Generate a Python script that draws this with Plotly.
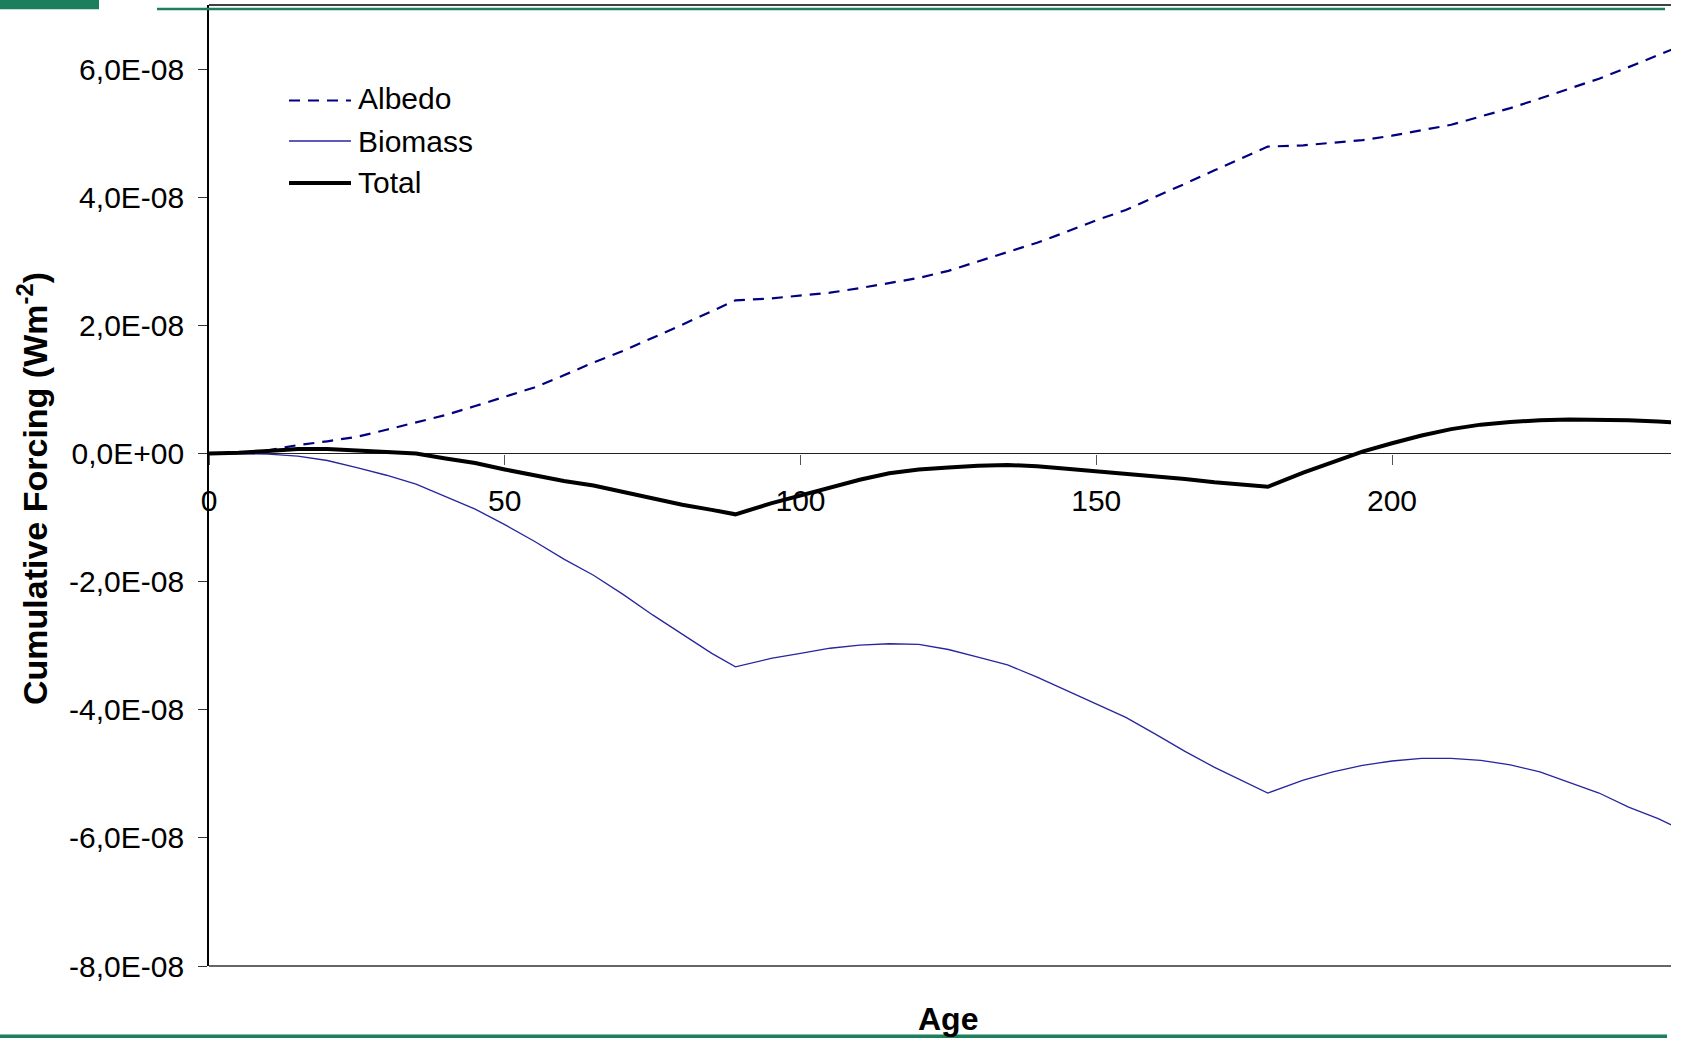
import plotly.graph_objects as go

# Stand age (years)
age = [0, 5, 10, 15, 20, 25, 30, 35, 40, 45, 50, 55, 60, 65, 70, 75, 80, 85, 89,
       95, 100, 105, 110, 115, 120, 125, 130, 135, 140, 145, 150, 155, 160, 165, 170, 175, 179,
       185, 190, 195, 200, 205, 210, 215, 220, 225, 230, 235, 240, 245, 248]

# Cumulative forcing, in units of 1E-08 W m-2
albedo = [0.00, 0.01, 0.05, 0.13, 0.19, 0.26, 0.37, 0.48, 0.60, 0.74, 0.88, 1.03, 1.22, 1.42, 1.60, 1.80, 2.01, 2.22, 2.39,
          2.42, 2.46, 2.51, 2.58, 2.66, 2.74, 2.85, 3.00, 3.15, 3.29, 3.46, 3.64, 3.80, 4.00, 4.21, 4.42, 4.62, 4.79,
          4.81, 4.85, 4.89, 4.96, 5.04, 5.13, 5.26, 5.39, 5.54, 5.69, 5.85, 6.03, 6.21, 6.33]

biomass = [0.00, 0.00, -0.01, -0.04, -0.11, -0.22, -0.34, -0.48, -0.67, -0.87, -1.11, -1.37, -1.65, -1.90, -2.20, -2.52, -2.82, -3.12, -3.33,
           -3.20, -3.12, -3.04, -2.99, -2.97, -2.98, -3.06, -3.18, -3.30, -3.49, -3.70, -3.92, -4.12, -4.38, -4.65, -4.90, -5.12, -5.30,
           -5.10, -4.97, -4.87, -4.80, -4.76, -4.76, -4.79, -4.86, -4.97, -5.13, -5.30, -5.52, -5.70, -5.83]

total = [0.00, 0.01, 0.04, 0.07, 0.07, 0.05, 0.03, 0.00, -0.08, -0.15, -0.25, -0.34, -0.43, -0.50, -0.60, -0.71, -0.80, -0.88, -0.95,
         -0.78, -0.66, -0.53, -0.41, -0.31, -0.25, -0.22, -0.19, -0.18, -0.20, -0.24, -0.28, -0.31, -0.36, -0.40, -0.45, -0.49, -0.52,
         -0.30, -0.13, 0.03, 0.16, 0.28, 0.38, 0.45, 0.49, 0.52, 0.53, 0.53, 0.52, 0.50, 0.48]

UNIT = 1e-8

y_tick_values = [-8, -6, -4, -2, 0, 2, 4, 6]
y_tick_labels = ["-8,0E-08", "-6,0E-08", "-4,0E-08", "-2,0E-08", "0,0E+00", "2,0E-08", "4,0E-08", "6,0E-08"]
x_tick_values = [0, 50, 100, 150, 200, 250]

series_names = ["Albedo", "Biomass", "Total"]

FONT = "Liberation Sans, Arial, sans-serif"
GREEN = "#1b7f5e"

W, H = 1685, 1038
ML, MR, MT, MB = 209, 14, 5, 72
PW, PH = W - ML - MR, H - MT - MB


def px(x):
    return (x - ML) / PW


def py(y):
    return (H - MB - y) / PH


y_min, y_max = -8e-8, 7e-8
x_max = PW / 5.915  # 5.915 px per year

fig = go.Figure()

styles = {
    "Albedo": dict(color="#000080", width=2.2, dash="11px,8px"),
    "Biomass": dict(color="#26269e", width=1.3),
    "Total": dict(color="#000000", width=4),
}
values = {"Albedo": albedo, "Biomass": biomass, "Total": total}

for name in series_names:
    fig.add_trace(go.Scatter(
        x=age, y=[v * UNIT for v in values[name]], mode="lines", name=name,
        line=styles[name], showlegend=False, hoverinfo="skip",
    ))

fig.update_layout(
    width=W, height=H,
    margin=dict(l=ML, r=MR, t=MT, b=MB, pad=0),
    paper_bgcolor="white", plot_bgcolor="white",
    font=dict(family=FONT, color="black"),
    xaxis=dict(
        range=[0, x_max], tickvals=x_tick_values, ticktext=[str(v) for v in x_tick_values],
        anchor="free", position=(0 - y_min) / (y_max - y_min),
        showline=True, linecolor="#222", linewidth=1.3,
        ticks="outside", ticklen=10, tickcolor="#555", tickwidth=1,
        tickfont=dict(size=30, family=FONT, color="black"), ticklabelstandoff=10,
        showgrid=False, zeroline=False, layer="below traces",
    ),
    yaxis=dict(
        range=[y_min, y_max], tickvals=[v * UNIT for v in y_tick_values], ticktext=y_tick_labels,
        showline=True, linecolor="black", linewidth=1.6,
        ticks="outside", ticklen=9, tickcolor="#333", tickwidth=1.3,
        tickfont=dict(size=30, family=FONT, color="black"), ticklabelstandoff=8,
        showgrid=False, zeroline=False, layer="below traces",
    ),
)

shapes = [
    # frame of the plot area (top and bottom edges)
    dict(type="line", xref="paper", yref="paper", x0=0, x1=1, y0=1, y1=1,
         line=dict(color="black", width=1.5)),
    dict(type="line", xref="paper", yref="paper", x0=0, x1=1, y0=0, y1=0,
         line=dict(color="#333", width=1.5)),
    # green page decorations
    dict(type="rect", xref="paper", yref="paper", x0=px(0), x1=px(99), y0=py(9.3), y1=py(-2),
         fillcolor=GREEN, line=dict(width=0), layer="above"),
    dict(type="rect", xref="paper", yref="paper", x0=px(157), x1=px(1665), y0=py(10.2), y1=py(7.8),
         fillcolor=GREEN, line=dict(width=0), layer="above"),
    dict(type="rect", xref="paper", yref="paper", x0=px(0), x1=px(1667), y0=py(1040), y1=py(1034.5),
         fillcolor=GREEN, line=dict(width=0), layer="above"),
]

# legend keys
legend_y = {"Albedo": 100.5, "Biomass": 141, "Total": 183}
legend_text_y = {"Albedo": 99, "Biomass": 141, "Total": 182.5}
annotations = []
for name in series_names:
    st = styles[name]
    shapes.append(dict(type="line", xref="paper", yref="paper",
                       x0=px(289), x1=px(351), y0=py(legend_y[name]), y1=py(legend_y[name]),
                       line=dict(color=st["color"], width=st["width"], dash=st.get("dash", "solid"))))
    annotations.append(dict(text=name, xref="paper", yref="paper", x=px(356), y=py(legend_text_y[name]),
                            xanchor="left", yanchor="middle", showarrow=False,
                            font=dict(size=30, family=FONT, color="black")))

annotations.append(dict(text="<b>Age</b>", xref="paper", yref="paper", x=px(947.5), y=py(1018.5),
                        xanchor="center", yanchor="middle", showarrow=False,
                        font=dict(size=32, family=FONT, color="black")))
annotations.append(dict(text="<b>Cumulative Forcing (Wm<sup>-2</sup>)</b>", xref="paper", yref="paper",
                        x=px(32), y=py(489), xanchor="center", yanchor="middle", textangle=-90,
                        showarrow=False, font=dict(size=34, family=FONT, color="black")))

fig.update_layout(shapes=shapes, annotations=annotations)

fig.write_html("out.html")
